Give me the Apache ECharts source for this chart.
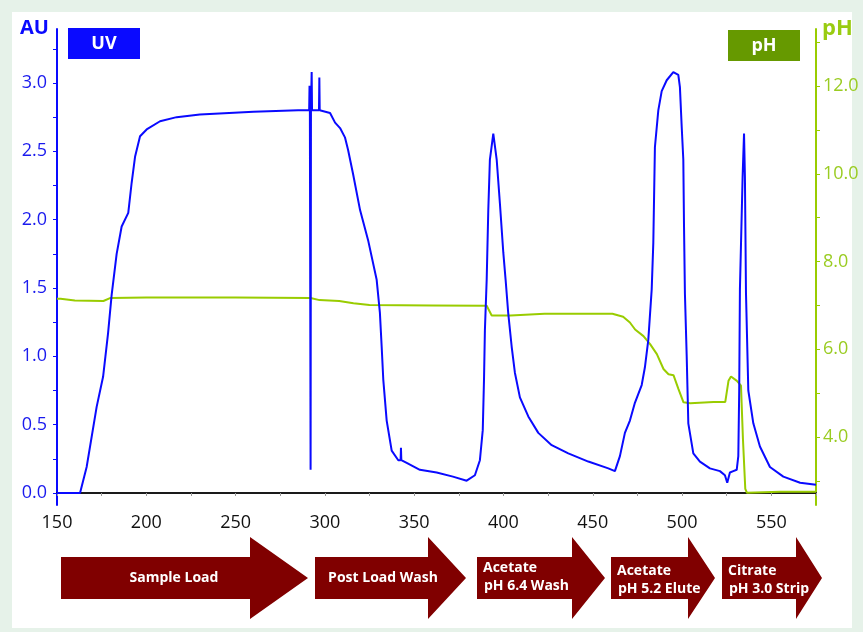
<!DOCTYPE html>
<html>
<head>
<meta charset="utf-8">
<script src="https://cdn.jsdelivr.net/npm/echarts@6/dist/echarts.min.js"></script>
<style>
html,body{margin:0;padding:0;background:#e6f2e9;}
#chart{width:863px;height:632px;}
</style>
</head>
<body>
<div id="chart"></div>
<script>
// ---- data ----
const xTickLabels = [150, 200, 250, 300, 350, 400, 450, 500, 550];
const xMinorTicks = [150,175,200,225,250,275,300,325,350,375,400,425,450,475,500,525,550,575];
const uvTickLabels = [0, 0.5, 1.0, 1.5, 2.0, 2.5, 3.0];
const uvMinorTicks = [0,0.25,0.5,0.75,1.0,1.25,1.5,1.75,2.0,2.25,2.5,2.75,3.0,3.25];
const phTickLabels = [4, 6, 8, 10, 12];
const phMinorTicks = [3,4,5,6,7,8,9,10,11,12,13];

const uvData = [
  [150,0],[162.9,0],[166.6,0.19],[172.2,0.63],[175.8,0.85],[178.6,1.17],[180.6,1.45],[183.4,1.75],
  [186.2,1.95],[189.9,2.05],[191.8,2.27],[193.7,2.46],[196.5,2.61],[200.2,2.66],[207.7,2.72],
  [217,2.75],[230,2.77],[260,2.79],[285,2.80],[291.2,2.80],[291.4,2.98],[291.6,2.80],[291.9,2.80],
  [292.0,0.17],[292.2,2.80],[292.6,3.08],[292.8,2.80],[296.7,2.80],[296.9,3.04],[297.1,2.80],
  [302.9,2.78],[305.7,2.71],[308.5,2.67],[311.3,2.60],[313,2.51],[315.7,2.34],[319.7,2.07],
  [324.2,1.85],[329,1.56],[330.8,1.32],[331.8,1.07],[332.7,0.83],[334.6,0.53],[337.4,0.31],
  [341.1,0.24],[342.4,0.24],[342.6,0.33],[342.8,0.24],[345.8,0.22],[353.2,0.17],[362.6,0.15],
  [371.7,0.12],[379.4,0.09],[384,0.13],[386.8,0.24],[388.4,0.46],[389.1,0.83],[389.6,1.19],
  [390.6,1.56],[391.5,2.07],[392.4,2.44],[394.3,2.63],[396.2,2.44],[398.0,2.12],[399.9,1.76],
  [401.2,1.56],[402.7,1.31],[404.6,1.07],[406.4,0.88],[409.2,0.70],[413.9,0.56],[419.5,0.44],
  [427,0.35],[436.3,0.29],[447.5,0.23],[458.7,0.18],[462.4,0.16],[465.2,0.27],[468.0,0.44],
  [470.8,0.53],[473.6,0.66],[477.4,0.79],[479.2,0.92],[481.1,1.12],[483.0,1.49],[483.9,1.83],
  [484.8,2.53],[486.7,2.80],[488.6,2.94],[491.4,3.02],[495.1,3.08],[497.9,3.06],[498.8,2.97],
  [499.8,2.68],[500.7,2.44],[501.1,1.95],[501.6,1.46],[502.6,1.0],[503.5,0.51],[506.3,0.29],
  [510,0.23],[515.6,0.18],[521.2,0.16],[524,0.13],[525.3,0.075],[526.8,0.15],[528.7,0.16],
  [530.6,0.17],[531.5,0.27],[532.0,0.75],[532.4,1.49],[533.9,2.31],[534.7,2.63],[535.2,2.31],
  [535.8,1.46],[537.1,0.75],[539.9,0.51],[543.6,0.34],[549.2,0.19],[556.7,0.12],[566.1,0.075],
  [575,0.06]
];

const phData = [
  [150,7.15],[152,7.15],[160,7.11],[176,7.10],[180,7.17],[200,7.18],[250,7.18],[292,7.17],
  [297,7.12],[308,7.10],[316,7.05],[325,7.01],[360,7.0],[390.6,6.99],[393.4,6.77],[404,6.77],
  [423,6.81],[461,6.81],[467,6.74],[470.8,6.61],[471.8,6.65],[473.7,6.45],[478.4,6.30],
  [482.2,6.11],[485.9,5.89],[489.6,5.55],[492.4,5.43],[495.2,5.41],[498,5.09],[500.8,4.79],
  [504.6,4.77],[517.6,4.80],[524.2,4.80],[526,5.28],[527.4,5.38],[530.7,5.28],[533,5.17],
  [534.1,3.95],[535.4,2.82],[536.3,2.73],[555,2.75],[575,2.75]
];

const phaseLabels = [
  ['Sample Load'],
  ['Post Load Wash'],
  ['Acetate', 'pH 6.4 Wash'],
  ['Acetate', 'pH 5.2 Elute'],
  ['Citrate', 'pH 3.0 Strip']
];

// ---- chart ----
const BLUE = '#0a0aff';
const GREEN = '#99cc00';
const DARKRED = '#800000';
const FONT = '"Open Sans", "Noto Sans", sans-serif';

// arrow geometry (layout only): [bodyLeft, headBase, tip]
const arrows = [
  [61, 250, 308],
  [315, 428, 466],
  [477, 572, 605],
  [611, 688, 715],
  [722, 796, 822]
];
const bodyTop = 557, bodyBot = 599, headTop = 537, headBot = 619, midY = 578;

const graphics = [
  {type:'rect', shape:{x:12, y:12, width:840, height:616}, style:{fill:'#ffffff'}, z:-10},
  {type:'text', left:20, top:18, style:{text:'AU', fill:BLUE, font:'bold 20px ' + FONT}},
  {type:'text', left:822, top:18, style:{text:'pH', fill:'#99cc11', font:'bold 22px ' + FONT}},
  {type:'rect', shape:{x:68, y:28, width:72, height:31}, style:{fill:BLUE}},
  {type:'text', x:104, y:44, style:{text:'UV', fill:'#fff', font:'bold 18px ' + FONT, align:'center', verticalAlign:'middle'}},
  {type:'rect', shape:{x:728, y:30, width:72, height:31}, style:{fill:'#669900'}},
  {type:'text', x:764, y:46, style:{text:'pH', fill:'#fff', font:'bold 18px ' + FONT, align:'center', verticalAlign:'middle'}}
];

arrows.forEach((a, i) => {
  graphics.push({
    type:'polygon',
    shape:{points:[[a[0],bodyTop],[a[1],bodyTop],[a[1],headTop],[a[2],midY],[a[1],headBot],[a[1],bodyBot],[a[0],bodyBot]]},
    style:{fill:DARKRED}
  });
  const lines = phaseLabels[i];
  if (lines.length === 1) {
    const cx = i === 0 ? 174 : 383;
    graphics.push({type:'text', x:cx, y:midY, style:{text:lines[0], fill:'#fff', font:'bold 14px ' + FONT, align:'center', verticalAlign:'middle'}});
  } else {
    const y0 = i === 2 ? 568 : 571;
    graphics.push({type:'text', x:a[0] + 6, y:y0, style:{text:lines[0], fill:'#fff', font:'bold 14px ' + FONT, align:'left', verticalAlign:'middle'}});
    graphics.push({type:'text', x:a[0] + 7, y:y0 + 18, style:{text:lines[1], fill:'#fff', font:'bold 14px ' + FONT, align:'left', verticalAlign:'middle'}});
  }
});

const chart = echarts.init(document.getElementById('chart'), null, {renderer:'canvas'});
chart.setOption({
  backgroundColor:'#e6f2e9',
  animation:false,
  grid:{left:57, right:47, top:29, bottom:127, containLabel:false},
  xAxis:{
    type:'value', min:150, max:575,
    axisLine:{show:true, lineStyle:{color:'#1a1a1a', width:2}},
    axisTick:{show:true, customValues:xMinorTicks, length:3, lineStyle:{color:'#999', width:1}},
    axisLabel:{customValues:xTickLabels, color:'#111', fontSize:18, fontFamily:FONT, margin:9},
    splitLine:{show:false}
  },
  yAxis:[
    {
      type:'value', min:-0.0878, max:3.395, position:'left',
      axisLine:{show:true, onZero:false, lineStyle:{color:BLUE, width:2}},
      axisTick:{show:true, customValues:uvMinorTicks, length:4, lineStyle:{color:BLUE, width:1}},
      axisLabel:{customValues:uvTickLabels, color:'#1a1aee', fontSize:18, fontFamily:FONT, margin:10,
        formatter:v => v.toFixed(1)},
      splitLine:{show:false}
    },
    {
      type:'value', min:2.45, max:13.3, position:'right',
      axisLine:{show:true, onZero:false, lineStyle:{color:GREEN, width:2}},
      axisTick:{show:true, customValues:phMinorTicks, length:4, lineStyle:{color:GREEN, width:1}},
      axisLabel:{customValues:phTickLabels, color:'#9acc22', fontSize:18, fontFamily:FONT, margin:7,
        formatter:v => v.toFixed(1)},
      splitLine:{show:false}
    }
  ],
  series:[
    {name:'pH', type:'line', yAxisIndex:1, data:phData, showSymbol:false, symbol:'none',
      lineStyle:{color:GREEN, width:2}, z:2},
    {name:'UV', type:'line', yAxisIndex:0, data:uvData, showSymbol:false, symbol:'none',
      lineStyle:{color:BLUE, width:2}, z:3}
  ],
  graphic:graphics
});
</script>
</body>
</html>
